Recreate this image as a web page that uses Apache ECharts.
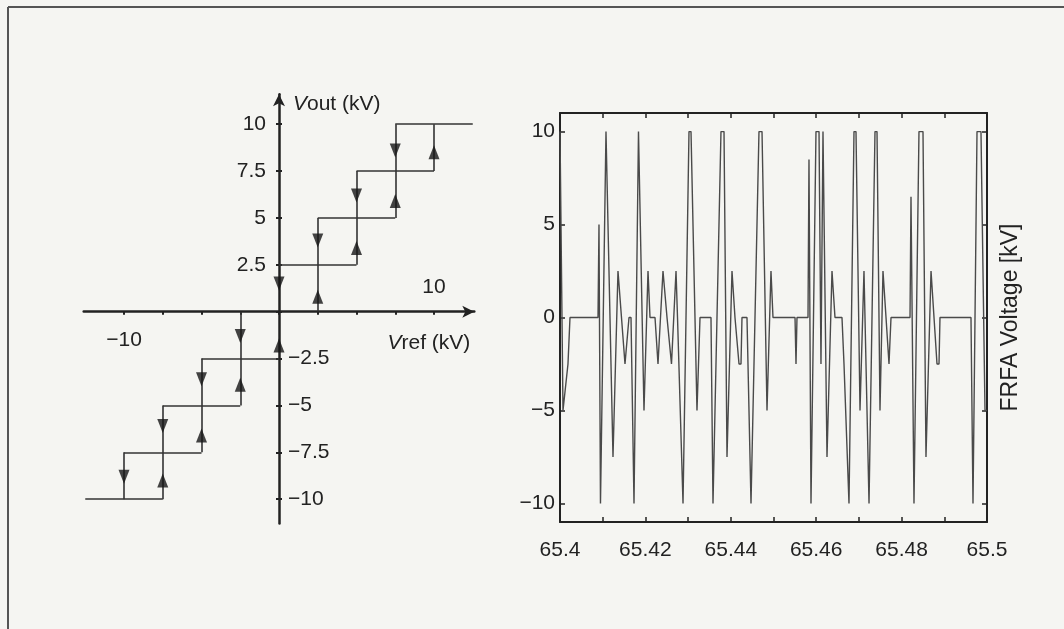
<!DOCTYPE html>
<html><head><meta charset="utf-8">
<script src="https://cdn.jsdelivr.net/npm/echarts@6/dist/echarts.min.js"></script>
<style>html,body{margin:0;padding:0;background:#f5f5f2}#c{width:1064px;height:629px}</style>
</head><body><div id="c"></div>
<script>
// ---------- Left panel: quantizer with hysteresis ----------
// horizontal steps: [Vref start, Vref end, Vout level]
const hSteps = [[7.5,12.5,10],[5,10,7.5],[2.5,7.5,5],[0,5,2.5],
                [-12.5,-7.5,-10],[-10,-5,-7.5],[-7.5,-2.5,-5],[-5,0,-2.5]];
// vertical transitions: [Vref, Vout start, Vout end]
const vSteps = [[10,7.5,10],[7.5,5,10],[5,2.5,7.5],[2.5,0,5],
                [-10,-10,-7.5],[-7.5,-10,-5],[-5,-7.5,-2.5],[-2.5,-5,0]];
const upArrows = [[10,8.5],[7.5,5.9],[5,3.4],[2.5,0.8],[0,-1.8],[-2.5,-3.9],[-5,-6.6],[-7.5,-9.0]];
const downArrows = [[7.5,8.6],[5,6.2],[2.5,3.8],[0,1.5],[-2.5,-1.3],[-5,-3.6],[-7.5,-6.1],[-10,-8.8]];
const stepTicks = [-10,-7.5,-5,-2.5,0,2.5,5,7.5,10];
const voutPosLabels = [2.5,5,7.5,10];
const voutNegLabels = [-2.5,-5,-7.5,-10];
const vrefBelowLabels = [-10];
const vrefAboveLabels = [10];

// ---------- Right panel: FRFA voltage waveform ----------
const timeS = [65.40000,65.40070,65.40187,65.40234,65.40890,65.40913,65.40948,65.41077,65.41241,65.41358,
  65.41440,65.41522,65.41616,65.41663,65.41733,65.41838,65.41874,65.41967,65.42061,65.42108,
  65.42225,65.42295,65.42412,65.42506,65.42611,65.42717,65.42752,65.42881,65.43021,65.43068,
  65.43208,65.43279,65.43536,65.43583,65.43770,65.43841,65.43911,65.44028,65.44098,65.44192,
  65.44239,65.44262,65.44379,65.44473,65.44660,65.44731,65.44848,65.44941,65.44988,65.45504,
  65.45527,65.45550,65.45808,65.45831,65.45878,65.45995,65.46066,65.46112,65.46159,65.46253,
  65.46370,65.46440,65.46604,65.46651,65.46768,65.46885,65.46932,65.47026,65.47119,65.47237,
  65.47377,65.47424,65.47494,65.47564,65.47635,65.47705,65.47752,65.48197,65.48220,65.48290,
  65.48407,65.48501,65.48571,65.48689,65.48759,65.48829,65.48876,65.48899,65.49625,65.49672,
  65.49766,65.49859,65.49953,65.50000];
const frfaKV = [10,-5,-2.5,0,0,5,-10,10,-7.5,2.5,
  0,-2.5,0,0,-10,10,10,-5,2.5,0,
  0,-2.5,2.5,0,-2.5,2.5,0,-10,10,10,
  -5,0,0,-10,10,10,-7.5,2.5,0,-2.5,
  -2.5,0,0,-10,10,10,-5,2.5,0,0,
  -2.5,0,0,8.5,-10,10,10,-2.5,10,-7.5,
  2.5,0,0,-2.5,-10,10,10,-5,2.5,-10,
  10,10,-5,2.5,0,-2.5,0,0,6.5,-10,
  10,10,-7.5,2.5,0,-2.5,-2.5,0,0,-10,
  10,10,-5,-5];
const voltTicks = [-10,-5,0,5,10];

const FONT = '"Liberation Sans", Arial, sans-serif';
const INK = '#222';
const fmtMinus = v => (v < 0 ? '\u2212' + String(-v) : String(v));

// left panel layout (axes cross at the origin)
const L = {left: 83.7, top: 94.2, width: 390.6, height: 429.4, xmin: -12.6, xmax: 12.6, ymin: -11.3, ymax: 11.6};
const originX = L.width * (0 - L.xmin) / (L.xmax - L.xmin);          // from grid left
const originY = L.height * (L.ymax - 0) / (L.ymax - L.ymin);         // from grid top
const offLeft = -originX, offRight = -(L.width - originX);
const offTop = -originY, offBottom = -(L.height - originY);

const chart = echarts.init(document.getElementById('c'), null, {renderer: 'canvas'});

const lbl = (extra) => Object.assign({fontSize: 21, color: INK, fontFamily: FONT, formatter: fmtMinus}, extra);
const axisLineStyle = {color: INK, width: 2.5};

const option = {
  backgroundColor: '#f5f5f2',
  animation: false,
  textStyle: {fontFamily: FONT},
  grid: [
    {left: L.left, top: L.top, width: L.width, height: L.height, outerBoundsMode: 'none'},
    {left: 560, top: 113, width: 427, height: 409, outerBoundsMode: 'none'}
  ],
  xAxis: [
    {
      type: 'value', gridIndex: 0, position: 'bottom', offset: offBottom, min: L.xmin, max: L.xmax,
      axisLine: {onZero: false, symbol: ['none', 'arrow'], symbolSize: [9, 12], lineStyle: axisLineStyle},
      axisTick: {customValues: stepTicks, length: 3, lineStyle: {color: INK, width: 2}},
      splitLine: {show: false},
      axisLabel: lbl({customValues: vrefBelowLabels, margin: 18}),
      name: '{i|V}ref (kV)', nameLocation: 'end', nameGap: -4,
      nameTextStyle: {align: 'right', verticalAlign: 'top', padding: [21, 0, 0, 0],
        fontSize: 21, color: INK, fontFamily: FONT,
        rich: {i: {fontStyle: 'italic', fontSize: 21, color: INK, fontFamily: FONT}}}
    },
    {
      type: 'value', gridIndex: 0, position: 'top', offset: offTop, min: L.xmin, max: L.xmax,
      axisLine: {show: false, onZero: false},
      axisTick: {show: false},
      splitLine: {show: false},
      axisLabel: lbl({customValues: vrefAboveLabels, margin: 14})
    },
    {
      type: 'value', gridIndex: 1, position: 'bottom', min: 65.4, max: 65.5, interval: 0.02,
      axisLine: {onZero: false, lineStyle: {color: INK, width: 2}},
      axisTick: {inside: true, length: 5, lineStyle: {color: INK, width: 1.5}},
      minorTick: {show: true, splitNumber: 2, length: 5, lineStyle: {color: INK, width: 1.5}},
      splitLine: {show: false},
      axisLabel: {formatter: v => String(+(+v).toFixed(2)), margin: 18, fontSize: 21,
                  color: INK, fontFamily: FONT, showMinLabel: true, showMaxLabel: true}
    },
    {
      type: 'value', gridIndex: 1, position: 'top', min: 65.4, max: 65.5, interval: 0.01,
      axisLine: {onZero: false, lineStyle: {color: INK, width: 2}},
      axisTick: {inside: true, length: 5, lineStyle: {color: INK, width: 1.5}},
      splitLine: {show: false},
      axisLabel: {show: false}
    }
  ],
  yAxis: [
    {
      type: 'value', gridIndex: 0, position: 'left', offset: offLeft, min: L.ymin, max: L.ymax,
      axisLine: {onZero: false, symbol: ['none', 'arrow'], symbolSize: [9, 12], lineStyle: axisLineStyle},
      axisTick: {customValues: stepTicks, length: 3, lineStyle: {color: INK, width: 2}},
      splitLine: {show: false},
      axisLabel: lbl({customValues: voutPosLabels, margin: 13}),
      name: '{i|V}out (kV)', nameLocation: 'end', nameGap: -10,
      nameTextStyle: {align: 'left', verticalAlign: 'middle', padding: [0, 0, 0, 14],
        fontSize: 21, color: INK, fontFamily: FONT,
        rich: {i: {fontStyle: 'italic', fontSize: 21, color: INK, fontFamily: FONT}}}
    },
    {
      type: 'value', gridIndex: 0, position: 'right', offset: offRight, min: L.ymin, max: L.ymax,
      axisLine: {show: false, onZero: false},
      axisTick: {customValues: stepTicks, length: 3, lineStyle: {color: INK, width: 2}},
      splitLine: {show: false},
      axisLabel: lbl({customValues: voutNegLabels, margin: 9})
    },
    {
      type: 'value', gridIndex: 1, position: 'left', min: -11, max: 11,
      axisLine: {onZero: false, lineStyle: {color: INK, width: 2}},
      axisTick: {customValues: voltTicks, inside: true, length: 5, lineStyle: {color: INK, width: 1.5}},
      splitLine: {show: false},
      axisLabel: {customValues: voltTicks, formatter: fmtMinus, margin: 5, fontSize: 21,
                  color: INK, fontFamily: FONT}
    },
    {
      type: 'value', gridIndex: 1, position: 'right', min: -11, max: 11,
      axisLine: {onZero: false, lineStyle: {color: INK, width: 2}},
      axisTick: {customValues: voltTicks, inside: true, length: 5, lineStyle: {color: INK, width: 1.5}},
      splitLine: {show: false},
      axisLabel: {show: false},
      name: 'FRFA Voltage [kV]', nameLocation: 'middle', nameRotate: 90, nameGap: 12,
      nameTextStyle: {fontSize: 23, color: INK, fontFamily: FONT}
    }
  ],
  series: [
    {
      type: 'lines', coordinateSystem: 'cartesian2d', xAxisIndex: 0, yAxisIndex: 0,
      polyline: false, silent: true,
      lineStyle: {color: '#333', width: 1.6, opacity: 1},
      data: hSteps.map(s => ({coords: [[s[0], s[2]], [s[1], s[2]]]}))
        .concat(vSteps.map(s => ({coords: [[s[0], s[1]], [s[0], s[2]]]})))
    },
    {
      type: 'scatter', xAxisIndex: 0, yAxisIndex: 0, symbol: 'triangle',
      symbolSize: [11, 14], itemStyle: {color: '#151515'}, data: upArrows, z: 5
    },
    {
      type: 'scatter', xAxisIndex: 0, yAxisIndex: 0, symbol: 'triangle', symbolRotate: 180,
      symbolSize: [11, 14], itemStyle: {color: '#151515'}, data: downArrows, z: 5
    },
    {
      type: 'line', xAxisIndex: 2, yAxisIndex: 2, showSymbol: false, symbol: 'none',
      lineStyle: {color: '#4a4a4a', width: 1.4},
      data: timeS.map((t, i) => [t, frfaKV[i]])
    }
  ],
  graphic: [
    {type: 'line', shape: {x1: 8, y1: 7, x2: 1064, y2: 7}, style: {stroke: '#555', lineWidth: 2}},
    {type: 'line', shape: {x1: 8, y1: 7, x2: 8, y2: 629}, style: {stroke: '#555', lineWidth: 2}}
  ]
};
chart.setOption(option);
</script></body></html>
